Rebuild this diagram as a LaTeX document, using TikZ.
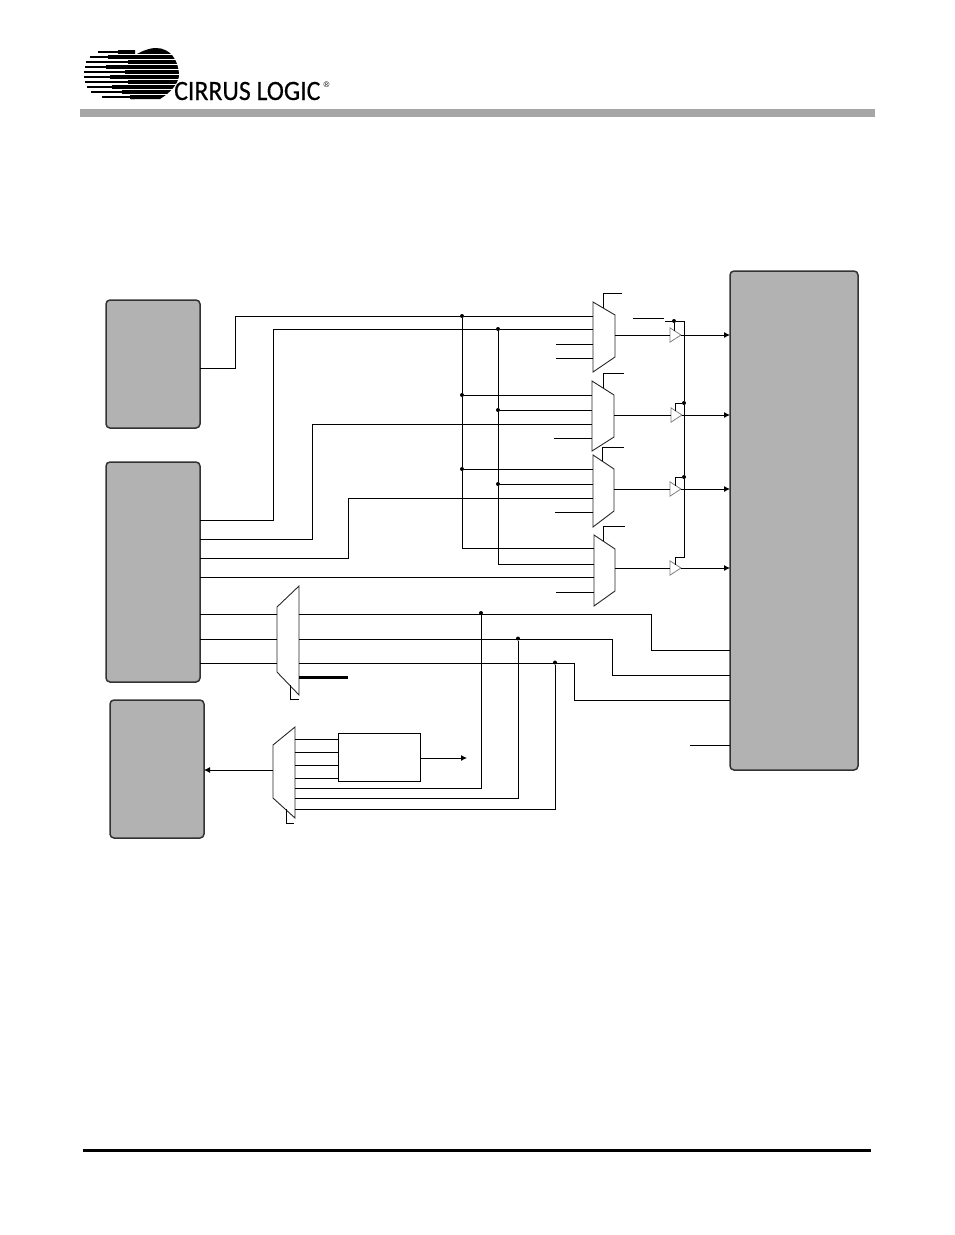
\documentclass[tikz,border=0pt]{standalone}
\usepackage{fontspec}
\setmainfont{Liberation Sans}
\newfontfamily\logofont[FakeBold=0.4]{Carlito}
\usetikzlibrary{shapes,arrows,positioning,calc,fit,arrows.meta}

\newcommand{\muxnode}[7]{%
    \draw [muxline] (#2,#4) -- (#3,#6) -- (#3,#7) -- (#2,#5) -- cycle;
    \node [inner sep=0, outer sep=0, fit={(#2,#4) (#3,#5) (#3,#6) (#3,#7)}] (#1) {};
}
\newcommand{\logobar}[3]{%
    \fill [black] (#2,#1-0.8) -- (#3,#1-0.8) -- (#3,#1-2) -- (135,#1-2) -- (135,#1+2) -- (#3,#1+2) -- (#3,#1+0.8) -- (#2,#1+0.8) -- cycle;
}

\begin{document}
\begin{tikzpicture}[
    x=1pt, y=-1pt,
    block/.style={draw=black!80, line width=1.5pt, rounded corners=4pt, fill=black!30, inner sep=0, outer sep=0, anchor=north west},
    plainbox/.style={draw, line width=0.9pt, fill=white, inner sep=0, outer sep=0, anchor=north west},
    wire/.style={line width=0.9pt},
    arrowwire/.style={line width=0.9pt, -{Latex[length=6pt,width=6pt]}},
    muxline/.style={line width=0.9pt, draw=black!85},
    junction/.style={circle, fill=black, inner sep=0, minimum size=4pt},
    buf/.style={isosceles triangle, isosceles triangle apex angle=66, draw=black!50, line width=0.8pt, fill=white, inner sep=0, outer sep=0, minimum height=11pt, anchor=lower side}
]
    \useasboundingbox (0,0) rectangle (954,1235);

    \fill [black] (131,58) .. controls (140,51) and (150,48) .. (156,48) .. controls (170,48) and (179,60) .. (179,76) .. controls (178,84) and (170,93) .. (160,99) -- (131,99) -- cycle;
    \logobar{52}{98}{118}
    \logobar{57}{90}{108}
    \logobar{62}{86}{128}
    \logobar{67}{85}{106}
    \logobar{72}{84}{125}
    \logobar{77}{84}{110}
    \logobar{82}{85}{128}
    \logobar{87}{87}{112}
    \logobar{92}{91}{122}
    \logobar{97}{102}{130}
    \draw [white, line width=0.9pt] (84,54.5) -- (181,54.5);
    \draw [white, line width=0.9pt] (84,59.5) -- (181,59.5);
    \draw [white, line width=0.9pt] (84,64.5) -- (181,64.5);
    \draw [white, line width=0.9pt] (84,69.5) -- (181,69.5);
    \draw [white, line width=0.9pt] (84,74.5) -- (181,74.5);
    \draw [white, line width=0.9pt] (84,79.5) -- (181,79.5);
    \draw [white, line width=0.9pt] (84,84.5) -- (181,84.5);
    \draw [white, line width=0.9pt] (84,89.5) -- (181,89.5);
    \draw [white, line width=0.9pt] (84,94.5) -- (181,94.5);
    \node [inner sep=0, anchor=base west] (logotext) at (174,100) {\logofont\fontsize{28}{28}\selectfont\scalebox{0.92}[1]{CIRRUS LOGIC}};
    \node [inner sep=0, anchor=base west] (logoreg) at (323.5,87) {\fontsize{8}{8}\selectfont ®};

    \fill [black!35] (80,109) rectangle (875,117);
    \fill [black] (83,1149) rectangle (871,1152);

    \node [block, minimum width=94pt, minimum height=128pt] (blka) at (106,300) {};
    \node [block, minimum width=94pt, minimum height=220pt] (blkb) at (106,462) {};
    \node [block, minimum width=94pt, minimum height=138pt] (blkc) at (110,700) {};
    \node [block, minimum width=128pt, minimum height=499pt] (blkd) at (730,271) {};
    \node [plainbox, minimum width=82pt, minimum height=48pt] (blke) at (338,733) {};

    \muxnode{mxa}{593}{615}{302}{372}{315}{357}
    \muxnode{mxb}{592}{614}{381}{451}{395}{437}
    \muxnode{mxc}{593}{614}{455}{527}{469}{511}
    \muxnode{mxd}{594}{615}{535}{606}{549}{591}
    \muxnode{mxp}{277}{299}{607}{672}{586}{695}
    \muxnode{mxq}{273}{295}{745}{798}{727}{818}

    \node [buf] (bufa) at (670,335) {};
    \node [buf] (bufb) at (671,415) {};
    \node [buf] (bufc) at (670,489) {};
    \node [buf] (bufd) at (670,568) {};

    \node [junction] (ja) at (462,316) {};
    \node [junction] (jb) at (498,329) {};
    \node [junction] (jc) at (462,395) {};
    \node [junction] (jd) at (498,410) {};
    \node [junction] (je) at (462,469) {};
    \node [junction] (jf) at (498,484) {};
    \node [junction] (jg) at (481,613) {};
    \node [junction] (jh) at (518,638.5) {};
    \node [junction] (ji) at (555,662.5) {};
    \node [junction] (jj) at (674,321) {};
    \node [junction] (jk) at (684,403) {};
    \node [junction] (jl) at (684,477) {};

    \coordinate (ina) at (556,344);
    \coordinate (inb) at (556,358);
    \coordinate (inc) at (554,438);
    \coordinate (ind) at (555,512);
    \coordinate (ine) at (556,592);
    \coordinate (sela) at (622,293);
    \coordinate (selb) at (624,373);
    \coordinate (selc) at (624,447);
    \coordinate (seld) at (625,526);
    \coordinate (selp) at (299,699);
    \coordinate (selq) at (294,823);
    \coordinate (ctla) at (633,318);
    \coordinate (ctlb) at (664,318);
    \coordinate (ctlc) at (665,321);
    \coordinate (ctld) at (684,321);
    \coordinate (ctle) at (684,557);
    \coordinate (ind2) at (690,745);
    \coordinate (thick) at (348,677);

    \draw [wire] (blka.east |- 0,368) -| (235,316) -- (ja) -- (mxa.west |- ja);
    \draw [wire] (blkb.east |- 0,520) -| (273,329) -- (jb) -- (mxa.west |- jb);
    \draw [wire] (ina) -- (mxa.west |- ina);
    \draw [wire] (inb) -- (mxa.west |- inb);
    \draw [wire] (ja) -- (jc) -- (je) -- (462,548) -- (mxd.west |- 0,548);
    \draw [wire] (jb) -- (jd) -- (jf) -- (498,564) -- (mxd.west |- 0,564);
    \draw [wire] (jc) -- (mxb.west |- jc);
    \draw [wire] (jd) -- (mxb.west |- jd);
    \draw [wire] (je) -- (mxc.west |- je);
    \draw [wire] (jf) -- (mxc.west |- jf);
    \draw [wire] (blkb.east |- 0,539) -| (312,424) -- (mxb.west |- 0,424);
    \draw [wire] (blkb.east |- 0,558) -| (348,498) -- (mxc.west |- 0,498);
    \draw [wire] (blkb.east |- 0,577) -- (mxd.west |- 0,577);
    \draw [wire] (inc) -- (mxb.west |- inc);
    \draw [wire] (ind) -- (mxc.west |- ind);
    \draw [wire] (ine) -- (mxd.west |- ine);

    \draw [wire] ([shift={(10,6)}]mxa.north west) |- (sela);
    \draw [wire] ([shift={(11,7)}]mxb.north west) |- (selb);
    \draw [wire] ([shift={(9,6)}]mxc.north west) |- (selc);
    \draw [wire] ([shift={(9,6)}]mxd.north west) |- (seld);

    \draw [wire] (mxa.east |- bufa.lower side) -- (bufa.lower side);
    \draw [wire] (mxb.east |- bufb.lower side) -- (bufb.lower side);
    \draw [wire] (mxc.east |- bufc.lower side) -- (bufc.lower side);
    \draw [wire] (mxd.east |- bufd.lower side) -- (bufd.lower side);
    \draw [arrowwire] (bufa.apex) -- (blkd.west |- bufa.apex);
    \draw [arrowwire] (bufb.apex) -- (blkd.west |- bufb.apex);
    \draw [arrowwire] (bufc.apex) -- (blkd.west |- bufc.apex);
    \draw [arrowwire] (bufd.apex) -- (blkd.west |- bufd.apex);

    \draw [wire] (ctla) -- (ctlb);
    \draw [wire] (ctlc) -- (jj) -- (ctld) -- (jk) -- (jl) -- (ctle) -| (675,565);
    \draw [wire] (jj) -- (674,331);
    \draw [wire] (jk) -| (675,411);
    \draw [wire] (jl) -| (675,486);

    \draw [wire] (blkb.east |- 0,614) -- (mxp.west |- 0,614);
    \draw [wire] (blkb.east |- 0,639) -- (mxp.west |- 0,639);
    \draw [wire] (blkb.east |- 0,663) -- (mxp.west |- 0,663);
    \draw [wire] (mxp.east |- 0,614) -| (651,650) -- (blkd.west |- 0,650);
    \draw [wire] (mxp.east |- 0,639) -| (612,675) -- (blkd.west |- 0,675);
    \draw [wire] (mxp.east |- 0,663) -| (574,700) -- (blkd.west |- 0,700);
    \draw [line width=3pt] (mxp.east |- thick) -- (thick);
    \draw [wire] ([shift={(13,99)}]mxp.north west) |- (selp);

    \draw [wire] (ind2) -- (blkd.west |- ind2);

    \draw [arrowwire] (mxq.west |- 0,770) -- (blkc.east |- 0,770);
    \draw [wire] (mxq.east |- 0,739) -- (blke.west |- 0,739);
    \draw [wire] (mxq.east |- 0,752) -- (blke.west |- 0,752);
    \draw [wire] (mxq.east |- 0,765) -- (blke.west |- 0,765);
    \draw [wire] (mxq.east |- 0,778) -- (blke.west |- 0,778);
    \draw [arrowwire] (blke.east |- 0,758) -- (467,758);
    \draw [wire] (mxq.east |- 0,788) -| (jg);
    \draw [wire] (mxq.east |- 0,798) -| (jh);
    \draw [wire] (mxq.east |- 0,809) -| (ji);
    \draw [wire] ([shift={(13,82)}]mxq.north west) |- (selq);
\end{tikzpicture}
\end{document}
